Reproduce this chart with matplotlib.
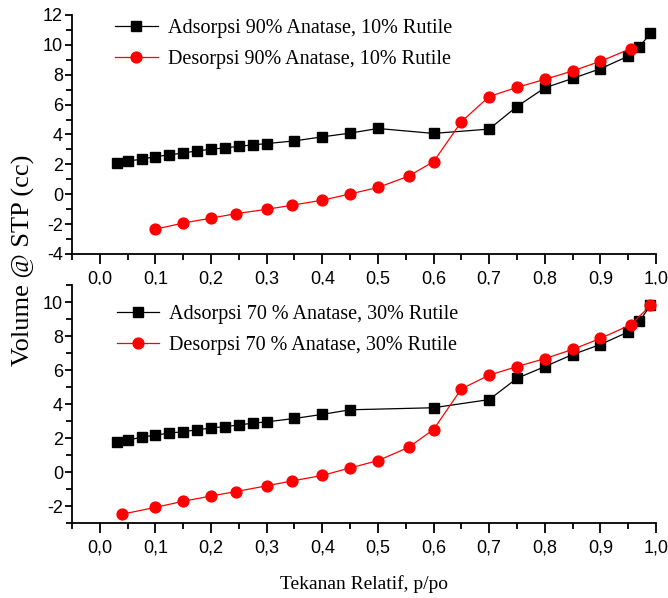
import matplotlib
matplotlib.use("Agg")
import matplotlib.pyplot as plt
from matplotlib.ticker import MultipleLocator, FuncFormatter

# --- isotherm data: 90% anatase / 10% rutile ---
ads90_x = [0.03, 0.05, 0.075, 0.1, 0.125, 0.15, 0.175, 0.2, 0.225, 0.25, 0.275, 0.3,
           0.35, 0.4, 0.45, 0.5, 0.6, 0.7, 0.75, 0.8, 0.85, 0.9, 0.95, 0.97, 0.99]
ads90_y = [2.07, 2.22, 2.34, 2.52, 2.63, 2.76, 2.90, 3.01, 3.10, 3.21, 3.30, 3.39,
           3.57, 3.84, 4.09, 4.40, 4.07, 4.36, 5.87, 7.12, 7.75, 8.40, 9.24, 9.87, 10.76]
des90_x = [0.1, 0.15, 0.2, 0.245, 0.3, 0.345, 0.4, 0.45, 0.5, 0.555, 0.6, 0.65,
           0.7, 0.75, 0.8, 0.85, 0.9, 0.955]
des90_y = [-2.34, -1.93, -1.60, -1.30, -1.01, -0.74, -0.40, 0.02, 0.45, 1.21, 2.18, 4.85,
           6.54, 7.15, 7.69, 8.25, 8.90, 9.75]

# --- isotherm data: 70% anatase / 30% rutile ---
ads70_x = [0.03, 0.05, 0.075, 0.1, 0.125, 0.15, 0.175, 0.2, 0.225, 0.25, 0.275, 0.3,
           0.35, 0.4, 0.45, 0.6, 0.7, 0.75, 0.8, 0.85, 0.9, 0.95, 0.97, 0.99]
ads70_y = [1.76, 1.88, 2.04, 2.18, 2.28, 2.38, 2.48, 2.59, 2.67, 2.77, 2.87, 2.95,
           3.15, 3.39, 3.66, 3.78, 4.26, 5.51, 6.20, 6.91, 7.50, 8.24, 8.87, 9.80]
des70_x = [0.04, 0.1, 0.15, 0.2, 0.245, 0.3, 0.345, 0.4, 0.45, 0.5, 0.555, 0.6,
           0.65, 0.7, 0.75, 0.8, 0.85, 0.9, 0.955, 0.99]
des70_y = [-2.48, -2.08, -1.72, -1.41, -1.15, -0.81, -0.53, -0.20, 0.24, 0.67, 1.45, 2.50,
           4.89, 5.70, 6.20, 6.67, 7.21, 7.86, 8.67, 9.80]

labels90 = ['Adsorpsi 90% Anatase, 10% Rutile', 'Desorpsi 90% Anatase, 10% Rutile']
labels70 = ['Adsorpsi 70 % Anatase, 30% Rutile', 'Desorpsi 70 % Anatase, 30% Rutile']

SERIF = 'Liberation Serif'
SANS = 'Liberation Sans'
plt.rcParams['axes.unicode_minus'] = False

fig = plt.figure(figsize=(6.68, 5.98), dpi=100)
ax_top = fig.add_axes([0.1078, 0.5753, 0.8743, 0.3997])
ax_bot = fig.add_axes([0.1078, 0.1254, 0.8743, 0.3980])

comma_fmt = FuncFormatter(lambda v, pos: f'{v:.1f}'.replace('.', ','))


def draw_panel(ax, ax_x, ax_y, de_x, de_y, labels, ylim, leg_anchor):
    ax.plot(ax_x, ax_y, color='black', lw=0.9, marker='s', ms=7,
            mec='black', mfc='black', label=labels[0])
    ax.plot(de_x, de_y, color='red', lw=0.9, marker='o', ms=7.8,
            mec='red', mfc='red', label=labels[1])
    ax.set_xlim(-0.05, 1.0)
    ax.set_ylim(*ylim)
    ax.spines['top'].set_visible(False)
    ax.spines['right'].set_visible(False)
    ax.spines['left'].set_linewidth(1.3)
    ax.spines['bottom'].set_linewidth(1.3)
    ax.xaxis.set_major_locator(MultipleLocator(0.1))
    ax.xaxis.set_minor_locator(MultipleLocator(0.05))
    ax.yaxis.set_major_locator(MultipleLocator(2))
    ax.yaxis.set_minor_locator(MultipleLocator(1))
    ax.xaxis.set_major_formatter(comma_fmt)
    ax.tick_params(axis='x', which='major', direction='out', length=7, width=1.3, pad=5)
    ax.tick_params(axis='x', which='minor', direction='out', length=4, width=1.3)
    ax.tick_params(axis='y', which='major', direction='out', length=5, width=1.3, pad=1.5)
    ax.tick_params(axis='y', which='minor', direction='out', length=4, width=1.3)
    for lab in ax.get_xticklabels() + ax.get_yticklabels():
        lab.set_fontfamily(SANS)
        lab.set_fontsize(13)
    ax.legend(loc='upper left', bbox_to_anchor=leg_anchor, frameon=False,
              prop={'family': SERIF, 'size': 14.5}, handlelength=2.1,
              handletextpad=0.5, labelspacing=0.6, borderpad=0, borderaxespad=0)


draw_panel(ax_top, ads90_x, ads90_y, des90_x, des90_y, labels90, (-4, 12), (0.074, 0.983))
draw_panel(ax_bot, ads70_x, ads70_y, des70_x, des70_y, labels70, (-3, 11), (0.077, 0.918))

fig.text(0.035, 0.565, 'Volume @ STP (cc)', rotation=90, ha='center', va='center',
         family=SERIF, fontsize=19)
ax_bot.set_xlabel('Tekanan Relatif, p/po', family=SERIF, fontsize=14, labelpad=13)

fig.savefig('out.png', dpi=100)
